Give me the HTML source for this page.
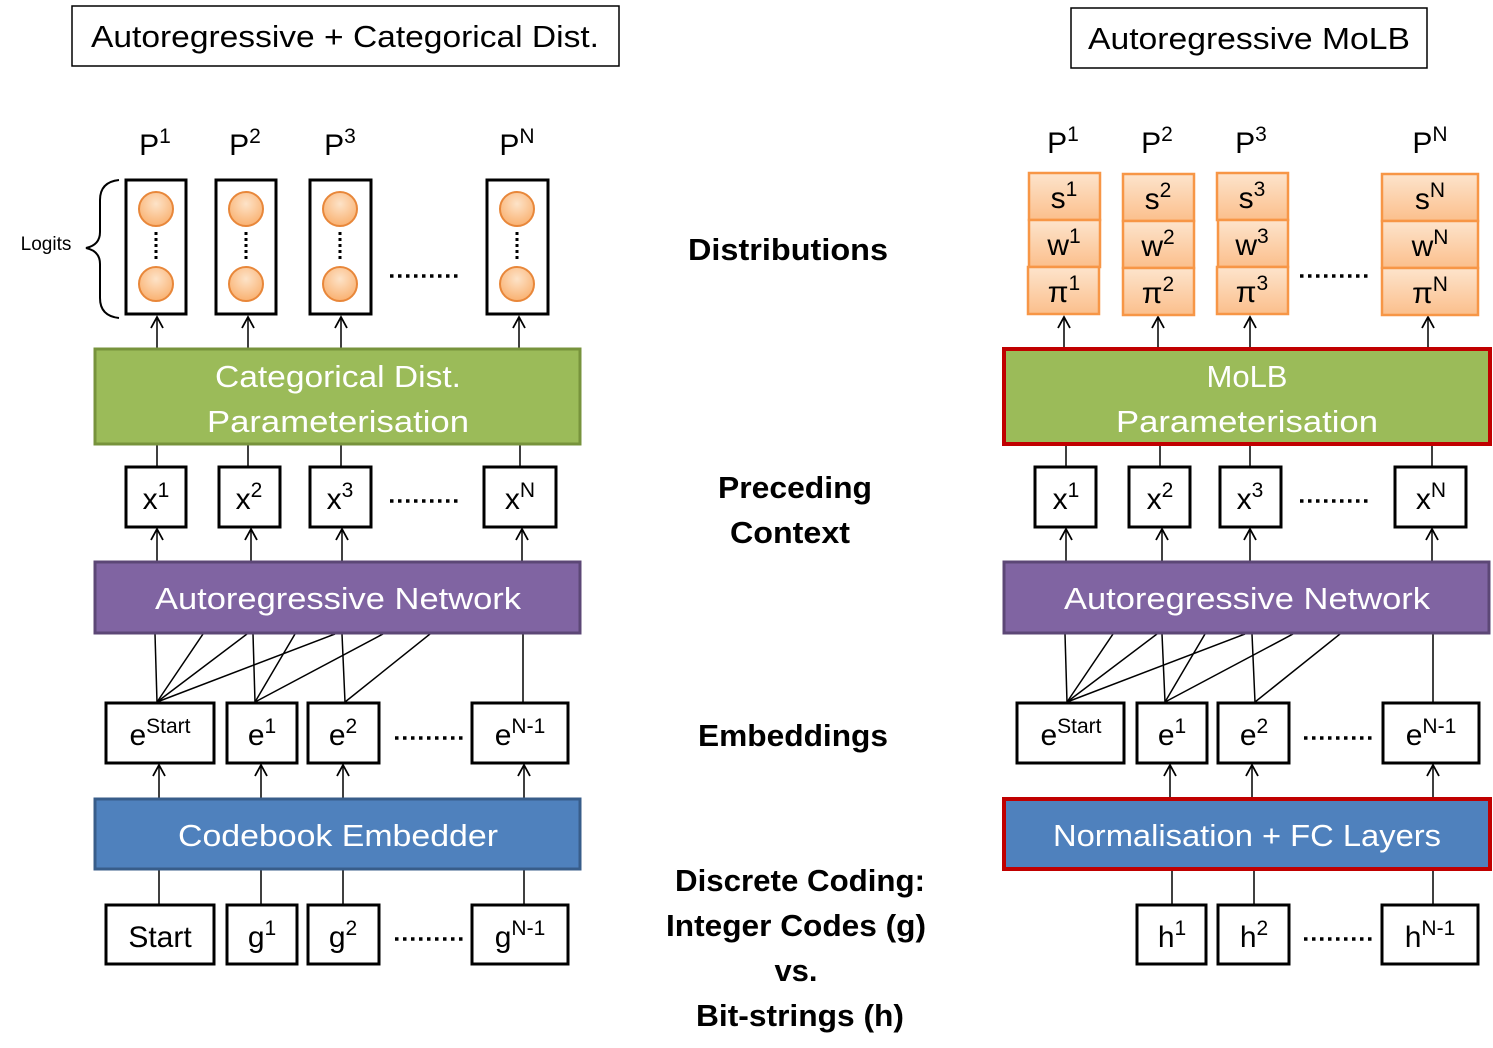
<!DOCTYPE html>
<html><head><meta charset="utf-8"><style>body{margin:0;background:#fff}svg{display:block}text{font-family:"Liberation Sans",sans-serif}</style></head><body>
<svg width="1493" height="1048" viewBox="0 0 1493 1048" xmlns="http://www.w3.org/2000/svg">
<defs>
<marker id="a" markerWidth="14" markerHeight="14" refX="12" refY="7" orient="auto" markerUnits="userSpaceOnUse" viewBox="0 0 14 14"><polyline points="1,1 12,7 1,13" fill="none" stroke="#000" stroke-width="1.8"/></marker>
<radialGradient id="og" cx="0.5" cy="0.35" r="0.7"><stop offset="0" stop-color="#fde3c8"/><stop offset="1" stop-color="#f9ad6a"/></radialGradient>
<linearGradient id="ob" x1="0" y1="0" x2="0" y2="1"><stop offset="0" stop-color="#fde4cc"/><stop offset="1" stop-color="#fbbf8c"/></linearGradient>
</defs>

<!-- Titles -->
<rect x="72" y="6" width="547" height="60" fill="#fff" stroke="#000" stroke-width="1.5"/>
<text x="345" y="47" font-size="31" text-anchor="middle" textLength="508" lengthAdjust="spacingAndGlyphs">Autoregressive + Categorical Dist.</text>
<rect x="1071" y="8" width="356" height="60" fill="#fff" stroke="#000" stroke-width="1.5"/>
<text x="1249" y="49" font-size="31" text-anchor="middle" textLength="322" lengthAdjust="spacingAndGlyphs">Autoregressive MoLB</text>

<!-- Middle labels -->
<g font-weight="bold" font-size="31" text-anchor="middle">
<text x="788" y="260" textLength="200" lengthAdjust="spacingAndGlyphs">Distributions</text>
<text x="795" y="498" textLength="154" lengthAdjust="spacingAndGlyphs">Preceding</text>
<text x="790" y="543" textLength="120" lengthAdjust="spacingAndGlyphs">Context</text>
<text x="793" y="746" textLength="190" lengthAdjust="spacingAndGlyphs">Embeddings</text>
<text x="800" y="891" textLength="250" lengthAdjust="spacingAndGlyphs">Discrete Coding:</text>
<text x="796" y="936" textLength="260" lengthAdjust="spacingAndGlyphs">Integer Codes (g)</text>
<text x="796" y="981">vs.</text>
<text x="800" y="1026" textLength="208" lengthAdjust="spacingAndGlyphs">Bit-strings (h)</text>
</g>

<!-- LEFT -->
<g font-size="30" text-anchor="middle">
<text x="155" y="155">P<tspan font-size="21" dy="-12">1</tspan></text>
<text x="245" y="155">P<tspan font-size="21" dy="-12">2</tspan></text>
<text x="340" y="155">P<tspan font-size="21" dy="-12">3</tspan></text>
<text x="517" y="155">P<tspan font-size="21" dy="-12">N</tspan></text>
</g>
<g stroke="#000" stroke-width="3" fill="#fff">
<rect x="126" y="180" width="60" height="134"/>
<rect x="216" y="180" width="60" height="134"/>
<rect x="310" y="180" width="61" height="134"/>
<rect x="487" y="180" width="61" height="134"/>
</g>
<g fill="url(#og)" stroke="#e8873a" stroke-width="2">
<circle cx="156" cy="209" r="17"/><circle cx="156" cy="284" r="17"/>
<circle cx="246" cy="209" r="17"/><circle cx="246" cy="284" r="17"/>
<circle cx="340" cy="209" r="17"/><circle cx="340" cy="284" r="17"/>
<circle cx="517" cy="209" r="17"/><circle cx="517" cy="284" r="17"/>
</g>
<g stroke="#000" stroke-width="3" stroke-dasharray="3,3">
<line x1="156" y1="232" x2="156" y2="262"/><line x1="246" y1="232" x2="246" y2="262"/>
<line x1="340" y1="232" x2="340" y2="262"/><line x1="517" y1="232" x2="517" y2="262"/>
</g>
<path d="M119,180 Q100,182 100,200 L100,232 Q100,245 86,248 Q100,251 100,264 L100,298 Q100,316 119,318" fill="none" stroke="#000" stroke-width="2"/>
<text x="46" y="250" font-size="19" text-anchor="middle">Logits</text>
<g stroke="#000" stroke-width="3.5" stroke-dasharray="3.5,4.5">
<line x1="390" y1="276" x2="462" y2="276"/>
<line x1="390" y1="501" x2="462" y2="501"/>
<line x1="395" y1="738" x2="465" y2="738"/>
<line x1="395" y1="939" x2="465" y2="939"/>
<line x1="1300" y1="276" x2="1370" y2="276"/>
<line x1="1300" y1="501" x2="1370" y2="501"/>
<line x1="1304" y1="738" x2="1374" y2="738"/>
<line x1="1304" y1="939" x2="1374" y2="939"/>
</g>
<g stroke="#000" stroke-width="1.5" marker-end="url(#a)">
<line x1="157" y1="348" x2="157" y2="317"/><line x1="248" y1="348" x2="248" y2="317"/>
<line x1="341" y1="348" x2="341" y2="317"/><line x1="519" y1="348" x2="519" y2="317"/>
<line x1="157" y1="561" x2="157" y2="529"/><line x1="251" y1="561" x2="251" y2="529"/>
<line x1="342" y1="561" x2="342" y2="529"/><line x1="522" y1="561" x2="522" y2="529"/>
<line x1="159" y1="798" x2="159" y2="765"/><line x1="261" y1="798" x2="261" y2="765"/>
<line x1="343" y1="798" x2="343" y2="765"/><line x1="524" y1="798" x2="524" y2="765"/>
<line x1="1064" y1="348" x2="1064" y2="317"/><line x1="1158" y1="348" x2="1158" y2="317"/>
<line x1="1250" y1="348" x2="1250" y2="317"/><line x1="1428" y1="348" x2="1428" y2="317"/>
<line x1="1066" y1="561" x2="1066" y2="529"/><line x1="1162" y1="561" x2="1162" y2="529"/>
<line x1="1250" y1="561" x2="1250" y2="529"/><line x1="1432" y1="561" x2="1432" y2="529"/>
<line x1="1170" y1="798" x2="1170" y2="765"/><line x1="1252" y1="798" x2="1252" y2="765"/>
<line x1="1433" y1="798" x2="1433" y2="765"/>
</g>
<g stroke="#000" stroke-width="1.5">
<line x1="157" y1="444" x2="157" y2="467"/><line x1="248" y1="444" x2="248" y2="467"/>
<line x1="341" y1="444" x2="341" y2="467"/><line x1="520" y1="444" x2="520" y2="467"/>
<line x1="159" y1="869" x2="159" y2="905"/><line x1="261" y1="869" x2="261" y2="905"/>
<line x1="343" y1="869" x2="343" y2="905"/><line x1="524" y1="869" x2="524" y2="905"/>
<line x1="155" y1="634" x2="157" y2="702"/><line x1="203" y1="634" x2="157" y2="702"/>
<line x1="247" y1="634" x2="157" y2="702"/><line x1="335" y1="634" x2="157" y2="702"/>
<line x1="253" y1="634" x2="255" y2="702"/><line x1="295" y1="634" x2="255" y2="702"/>
<line x1="383" y1="634" x2="255" y2="702"/><line x1="342" y1="634" x2="345" y2="702"/>
<line x1="430" y1="634" x2="345" y2="702"/><line x1="523" y1="634" x2="523" y2="702"/>
<line x1="1066" y1="444" x2="1066" y2="467"/><line x1="1160" y1="444" x2="1160" y2="467"/>
<line x1="1250" y1="444" x2="1250" y2="467"/><line x1="1432" y1="444" x2="1432" y2="467"/>
<line x1="1172" y1="869" x2="1172" y2="905"/><line x1="1254" y1="869" x2="1254" y2="905"/>
<line x1="1433" y1="869" x2="1433" y2="905"/>
<line x1="1065" y1="634" x2="1067" y2="702"/><line x1="1113" y1="634" x2="1067" y2="702"/>
<line x1="1157" y1="634" x2="1067" y2="702"/><line x1="1245" y1="634" x2="1067" y2="702"/>
<line x1="1162" y1="634" x2="1165" y2="702"/><line x1="1205" y1="634" x2="1165" y2="702"/>
<line x1="1293" y1="634" x2="1165" y2="702"/><line x1="1252" y1="634" x2="1255" y2="702"/>
<line x1="1340" y1="634" x2="1255" y2="702"/><line x1="1433" y1="634" x2="1433" y2="702"/>
</g>

<!-- Big bars left -->
<rect x="95" y="349" width="485" height="95" fill="#9bbb59" stroke="#77933c" stroke-width="3"/>
<rect x="95" y="562" width="485" height="71" fill="#8064a2" stroke="#5c4776" stroke-width="3"/>
<rect x="95" y="799" width="485" height="70" fill="#4f81bd" stroke="#385d8a" stroke-width="3"/>
<!-- Big bars right -->
<rect x="1004" y="349" width="486" height="95" fill="#9bbb59" stroke="#c00000" stroke-width="4"/>
<rect x="1004" y="562" width="485" height="71" fill="#8064a2" stroke="#5c4776" stroke-width="3"/>
<rect x="1004" y="799" width="486" height="70" fill="#4f81bd" stroke="#c00000" stroke-width="4"/>
<g fill="#fff" font-size="31" text-anchor="middle">
<text x="338" y="387" textLength="246" lengthAdjust="spacingAndGlyphs">Categorical Dist.</text>
<text x="338" y="432" textLength="262" lengthAdjust="spacingAndGlyphs">Parameterisation</text>
<text x="338" y="609" textLength="366" lengthAdjust="spacingAndGlyphs">Autoregressive Network</text>
<text x="338" y="846" textLength="320" lengthAdjust="spacingAndGlyphs">Codebook Embedder</text>
<text x="1247" y="387">MoLB</text>
<text x="1247" y="432" textLength="262" lengthAdjust="spacingAndGlyphs">Parameterisation</text>
<text x="1247" y="609" textLength="366" lengthAdjust="spacingAndGlyphs">Autoregressive Network</text>
<text x="1247" y="846" textLength="388" lengthAdjust="spacingAndGlyphs">Normalisation + FC Layers</text>
</g>

<!-- small boxes -->
<g stroke="#000" stroke-width="3" fill="#fff">
<rect x="126" y="467" width="60" height="60"/><rect x="219" y="467" width="61" height="60"/>
<rect x="310" y="467" width="61" height="60"/><rect x="484" y="467" width="72" height="60"/>
<rect x="106" y="703" width="108" height="60"/><rect x="227" y="703" width="70" height="60"/>
<rect x="308" y="703" width="71" height="60"/><rect x="472" y="703" width="96" height="60"/>
<rect x="106" y="905" width="108" height="59"/><rect x="227" y="905" width="70" height="59"/>
<rect x="308" y="905" width="71" height="59"/><rect x="472" y="905" width="96" height="59"/>
<rect x="1035" y="467" width="61" height="60"/><rect x="1129" y="467" width="61" height="60"/>
<rect x="1220" y="467" width="61" height="60"/><rect x="1395" y="467" width="71" height="60"/>
<rect x="1017" y="703" width="107" height="60"/><rect x="1137" y="703" width="70" height="60"/>
<rect x="1218" y="703" width="71" height="60"/><rect x="1383" y="703" width="96" height="60"/>
<rect x="1137" y="905" width="69" height="59"/><rect x="1218" y="905" width="71" height="59"/>
<rect x="1382" y="905" width="96" height="59"/>
</g>
<g font-size="30" text-anchor="middle">
<text x="156" y="509">x<tspan font-size="21" dy="-12">1</tspan></text>
<text x="249" y="509">x<tspan font-size="21" dy="-12">2</tspan></text>
<text x="340" y="509">x<tspan font-size="21" dy="-12">3</tspan></text>
<text x="520" y="509">x<tspan font-size="21" dy="-12">N</tspan></text>
<text x="160" y="745">e<tspan font-size="21" dy="-12">Start</tspan></text>
<text x="262" y="745">e<tspan font-size="21" dy="-12">1</tspan></text>
<text x="343" y="745">e<tspan font-size="21" dy="-12">2</tspan></text>
<text x="520" y="745">e<tspan font-size="21" dy="-12">N-1</tspan></text>
<text x="160" y="947">Start</text>
<text x="262" y="947">g<tspan font-size="21" dy="-12">1</tspan></text>
<text x="343" y="947">g<tspan font-size="21" dy="-12">2</tspan></text>
<text x="520" y="947">g<tspan font-size="21" dy="-12">N-1</tspan></text>
<text x="1063" y="153">P<tspan font-size="21" dy="-12">1</tspan></text>
<text x="1157" y="153">P<tspan font-size="21" dy="-12">2</tspan></text>
<text x="1251" y="153">P<tspan font-size="21" dy="-12">3</tspan></text>
<text x="1430" y="153">P<tspan font-size="21" dy="-12">N</tspan></text>
<text x="1066" y="509">x<tspan font-size="21" dy="-12">1</tspan></text>
<text x="1160" y="509">x<tspan font-size="21" dy="-12">2</tspan></text>
<text x="1250" y="509">x<tspan font-size="21" dy="-12">3</tspan></text>
<text x="1431" y="509">x<tspan font-size="21" dy="-12">N</tspan></text>
<text x="1071" y="745">e<tspan font-size="21" dy="-12">Start</tspan></text>
<text x="1172" y="745">e<tspan font-size="21" dy="-12">1</tspan></text>
<text x="1254" y="745">e<tspan font-size="21" dy="-12">2</tspan></text>
<text x="1431" y="745">e<tspan font-size="21" dy="-12">N-1</tspan></text>
<text x="1172" y="947">h<tspan font-size="21" dy="-12">1</tspan></text>
<text x="1254" y="947">h<tspan font-size="21" dy="-12">2</tspan></text>
<text x="1430" y="947">h<tspan font-size="21" dy="-12">N-1</tspan></text>
</g>

<!-- orange stacks -->
<g fill="url(#ob)" stroke="#f79646" stroke-width="2.5">
<rect x="1029" y="173" width="71" height="47"/><rect x="1029" y="220" width="71" height="47"/><rect x="1028" y="267" width="71" height="47"/>
<rect x="1123" y="174" width="71" height="47"/><rect x="1123" y="221" width="71" height="47"/><rect x="1123" y="268" width="71" height="47"/>
<rect x="1217" y="173" width="71" height="47"/><rect x="1218" y="220" width="70" height="47"/><rect x="1217" y="267" width="71" height="47"/>
<rect x="1382" y="174" width="96" height="47"/><rect x="1382" y="221" width="96" height="47"/><rect x="1382" y="268" width="96" height="47"/>
</g>
<g font-size="30" text-anchor="middle">
<text x="1064" y="208">s<tspan font-size="21" dy="-12">1</tspan></text>
<text x="1064" y="255">w<tspan font-size="21" dy="-12">1</tspan></text>
<text x="1064" y="302">π<tspan font-size="21" dy="-12">1</tspan></text>
<text x="1158" y="209">s<tspan font-size="21" dy="-12">2</tspan></text>
<text x="1158" y="256">w<tspan font-size="21" dy="-12">2</tspan></text>
<text x="1158" y="303">π<tspan font-size="21" dy="-12">2</tspan></text>
<text x="1252" y="208">s<tspan font-size="21" dy="-12">3</tspan></text>
<text x="1252" y="255">w<tspan font-size="21" dy="-12">3</tspan></text>
<text x="1252" y="302">π<tspan font-size="21" dy="-12">3</tspan></text>
<text x="1430" y="209">s<tspan font-size="21" dy="-12">N</tspan></text>
<text x="1430" y="256">w<tspan font-size="21" dy="-12">N</tspan></text>
<text x="1430" y="303">π<tspan font-size="21" dy="-12">N</tspan></text>
</g>
</svg>
</body></html>
